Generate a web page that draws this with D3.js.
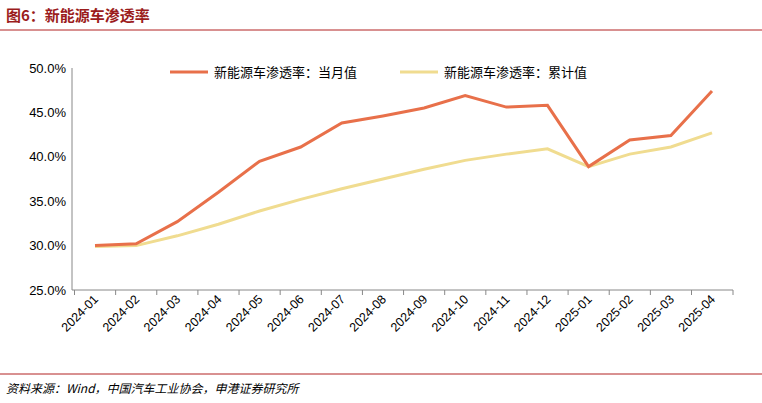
<!DOCTYPE html>
<html><head><meta charset="utf-8">
<script src="https://cdn.jsdelivr.net/npm/d3@7"></script>
<style>body{margin:0;background:#fff;font-family:"Noto Sans CJK SC","Liberation Sans",sans-serif}</style>
</head><body>
<script>
var months = ["2024-01","2024-02","2024-03","2024-04","2024-05","2024-06","2024-07","2024-08","2024-09","2024-10","2024-11","2024-12","2025-01","2025-02","2025-03","2025-04"];
var monthly = [30.0,30.2,32.7,36.0,39.5,41.1,43.8,44.6,45.5,46.9,45.6,45.8,38.9,41.9,42.4,47.4];
var cumulative = [29.9,30.0,31.1,32.4,33.9,35.2,36.4,37.5,38.6,39.6,40.3,40.9,38.9,40.3,41.1,42.7];
var yTicks = [25,30,35,40,45,50];

var W = 762, H = 403;
var svg = d3.select("body").append("svg").attr("width", W).attr("height", H);

svg.append("text").attr("x", 6).attr("y", 21).attr("fill", "#9b1c1c")
    .attr("font-size", 15).attr("font-weight", "bold").text("图6：新能源车渗透率");
svg.append("line").attr("x1", 0).attr("x2", W).attr("y1", 30).attr("y2", 30)
    .attr("stroke", "#b22222").attr("stroke-width", 1);

var x = d3.scalePoint().domain(months).range([95, 712]);
var y = d3.scaleLinear().domain([25, 50]).range([290, 68]);

svg.append("g").attr("transform", "translate(72,0)")
    .call(d3.axisLeft(y).tickValues(yTicks).tickSize(0).tickFormat(function (d) { return d.toFixed(1) + "%"; }))
    .call(function (g) { g.select(".domain").remove(); })
    .selectAll("text").attr("font-size", 13).attr("fill", "#000").attr("x", -6)
    .attr("font-family", "Liberation Sans, Arial");

svg.append("line").attr("x1", 72).attr("x2", 733).attr("y1", 290).attr("y2", 290).attr("stroke", "#888");
svg.append("line").attr("x1", 72).attr("x2", 72).attr("y1", 68).attr("y2", 290).attr("stroke", "#888");
months.forEach(function (m, i) {
    var xx = x(m) - 20.5;
    svg.append("line").attr("x1", xx).attr("x2", xx).attr("y1", 290).attr("y2", 295).attr("stroke", "#888");
});
svg.append("line").attr("x1", 733).attr("x2", 733).attr("y1", 290).attr("y2", 295).attr("stroke", "#888");

svg.selectAll("text.xl").data(months).enter().append("text").attr("class", "xl")
    .attr("transform", function (d) { return "translate(" + (x(d) + 4) + ",300) rotate(-45)"; })
    .attr("text-anchor", "end").attr("font-size", 12.5).attr("font-family", "Liberation Sans, Arial")
    .text(function (d) { return d; });

var line = d3.line().x(function (d, i) { return x(months[i]); }).y(function (d) { return y(d); });
svg.append("path").attr("d", line(cumulative)).attr("fill", "none").attr("stroke", "#f0dc90").attr("stroke-width", 3);
svg.append("path").attr("d", line(monthly)).attr("fill", "none").attr("stroke", "#e8704a").attr("stroke-width", 3);

var legend = [["新能源车渗透率：当月值", "#e8704a", 170], ["新能源车渗透率：累计值", "#f0dc90", 400]];
legend.forEach(function (l) {
    svg.append("line").attr("x1", l[2]).attr("x2", l[2] + 38).attr("y1", 72).attr("y2", 72)
        .attr("stroke", l[1]).attr("stroke-width", 3);
    svg.append("text").attr("x", l[2] + 44).attr("y", 77).attr("font-size", 13).text(l[0]);
});

svg.append("line").attr("x1", 0).attr("x2", W).attr("y1", 374).attr("y2", 374)
    .attr("stroke", "#b22222").attr("stroke-width", 1);
svg.append("text").attr("x", 6).attr("y", 393).attr("font-size", 12).attr("font-style", "italic")
    .text("资料来源：Wind，中国汽车工业协会，申港证券研究所");
</script>
</body></html>
